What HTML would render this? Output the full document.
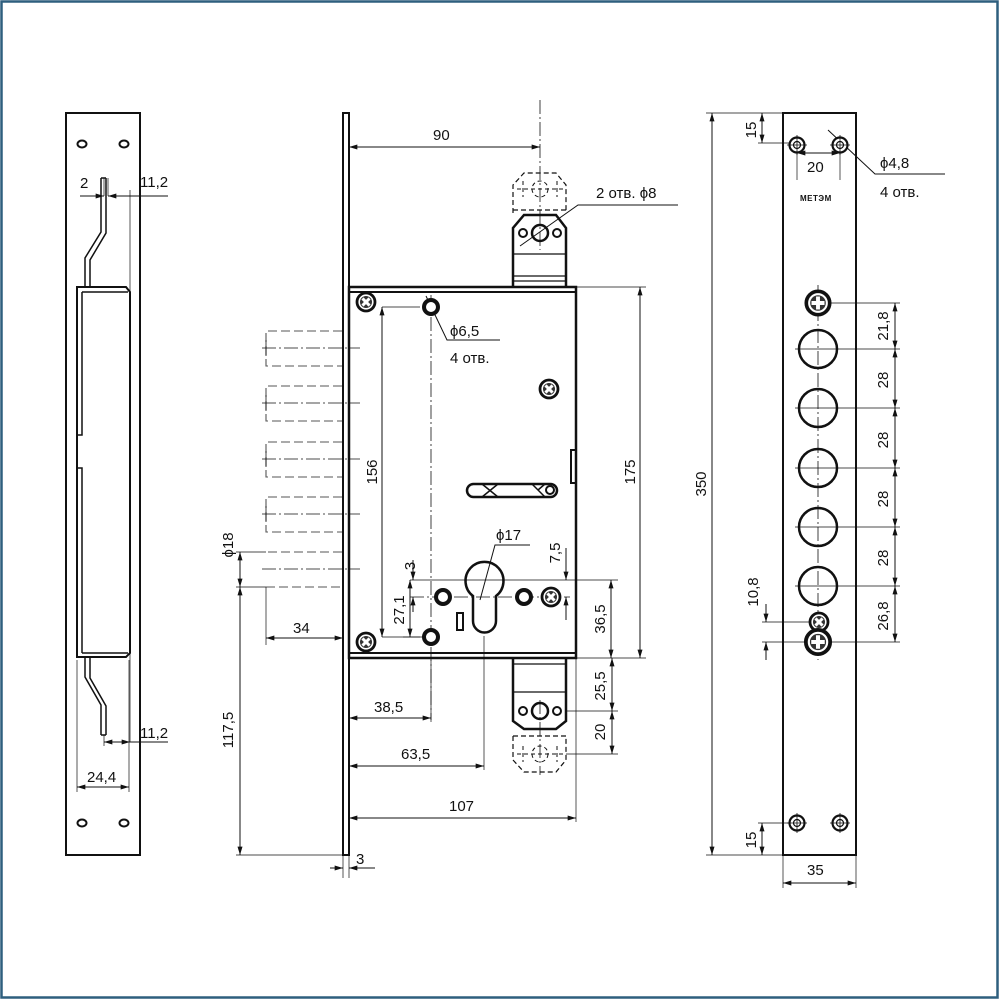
<!DOCTYPE html>
<html><head><meta charset="utf-8"><style>
html,body{margin:0;padding:0;background:#fff}
svg{display:block}
text{font-family:"Liberation Sans",sans-serif;font-size:15px;fill:#111}
</style></head><body>
<svg width="1000" height="1000" viewBox="0 0 1000 1000" xmlns="http://www.w3.org/2000/svg">
<defs>
<marker id="a" viewBox="0 0 10 6" refX="10" refY="3" markerWidth="9" markerHeight="5" orient="auto-start-reverse"><path d="M0,0 L10,3 L0,6z" fill="#111"/></marker>
<g id="scr"><circle r="9" fill="#fff" stroke="#111" stroke-width="2.8"/><circle r="6" fill="#333"/><path d="M-5,-1.5h3.5v-3.5h3v3.5h3.5v3h-3.5v3.5h-3v-3.5h-3.5z" fill="#fff" transform="rotate(45)"/></g>
<g id="scr2"><circle r="9" fill="#fff" stroke="#111" stroke-width="2.8"/><circle r="6" fill="#333"/><path d="M-5,-1.5h3.5v-3.5h3v3.5h3.5v3h-3.5v3.5h-3v-3.5h-3.5z" fill="#fff"/></g>
<g id="ring"><circle r="7" fill="#fff" stroke="#111" stroke-width="4"/></g>
<g id="dh"><circle r="7.5" fill="#fff" stroke="#111" stroke-width="2.2"/><circle r="3.5" fill="none" stroke="#111" stroke-width="1.2"/><path d="M-10,0h20M0,-10v20" stroke="#111" stroke-width="0.8"/></g>
</defs>
<rect x="1.5" y="1.5" width="996" height="996" fill="none" stroke="#2e5f7e" stroke-width="2.5"/>

<g fill="none" stroke="#111" stroke-width="1">
<rect x="66" y="113" width="74" height="742" stroke-width="2"/>
<ellipse cx="82" cy="144" rx="4.5" ry="3.5" stroke-width="2"/><ellipse cx="124" cy="144" rx="4.5" ry="3.5" stroke-width="2"/>
<ellipse cx="82" cy="823" rx="4.5" ry="3.5" stroke-width="2"/><ellipse cx="124" cy="823" rx="4.5" ry="3.5" stroke-width="2"/>
<path d="M77,287 H126 L130,292 V653 L126,657 H77 Z" stroke-width="2"/>
<path d="M82,292 V435 H78 M78,468 H82 V653 M82,292 H128 M82,653 H128" stroke-width="1.5"/>
<path d="M101,178 V232 L85,258 V287 M106,178 V233 L90,260 V287 M101,178 H106" stroke-width="1.5"/>
<path d="M101,735 V705 L85,677 V657 M106,735 V706 L90,678 V657 M101,735 H106" stroke-width="1.5"/>
<path d="M104,178 V196 M108,178 V196 M130,190 V742 M140,180 V200 M104,735 V746 M77,660 V792 M129,660 V792" stroke-width="0.7"/>
<line x1="80" y1="196" x2="104" y2="196" marker-end="url(#a)"/><line x1="132" y1="196" x2="108" y2="196" marker-end="url(#a)"/><line x1="132" y1="196" x2="168" y2="196"/>
<line x1="104" y1="742" x2="130" y2="742" marker-start="url(#a)" marker-end="url(#a)"/><line x1="130" y1="742" x2="168" y2="742"/>
<line x1="77" y1="787" x2="129" y2="787" marker-start="url(#a)" marker-end="url(#a)"/>

<rect x="343" y="113" width="6" height="742" stroke-width="2"/>
<rect x="349" y="287" width="227" height="371" stroke-width="2.5"/>
<path d="M349,292 H576 M349,653 H576" stroke-width="2"/>
<rect x="571" y="450" width="5" height="33" stroke-width="2"/>
<rect x="467" y="484" width="90" height="13" rx="6.5" stroke-width="2.5"/>
<path d="M482,484 L498,497 M482,497 L498,484 M532,484 L545,497 M538,490 L545,484" stroke-width="1.5"/>
<circle cx="550" cy="490" r="4" stroke-width="2"/>
<path d="M473,596 A19,19 0 1 1 496,596 V621 A11.5,11.5 0 0 1 473,621 Z" stroke-width="2.5"/>
<rect x="457" y="613" width="6" height="17" stroke-width="2"/>
<path d="M513,287 V228 L524,215 H556 L566,228 V287" stroke-width="2.5"/>
<path d="M513,254 H566 M513,276 H566 M513,281 H566" stroke-width="1.2"/>
<circle cx="540" cy="233" r="8" stroke-width="2.5"/><circle cx="523" cy="233" r="4" stroke-width="2"/><circle cx="557" cy="233" r="4" stroke-width="2"/>
<path d="M513,213 V185 L524,173 H556 L566,185 V213 M513,210 H566" stroke-dasharray="5,3" stroke-width="1.2"/>
<circle cx="540" cy="189" r="8" stroke-dasharray="4,3"/><path d="M523,181 v16 M557,181 v16 M517,189 h46" stroke-dasharray="4,3"/>
<path d="M513,658 V721 L524,729 H556 L566,721 V658" stroke-width="2.5"/>
<path d="M513,664 H566 M513,692 H566" stroke-width="1.2"/>
<circle cx="540" cy="711" r="8" stroke-width="2.5"/><circle cx="523" cy="711" r="4" stroke-width="2"/><circle cx="557" cy="711" r="4" stroke-width="2"/>
<path d="M513,736 V760 L524,772 H556 L566,760 V736 M513,736 H566" stroke-dasharray="5,3" stroke-width="1.2"/>
<circle cx="540" cy="754" r="8" stroke-dasharray="4,3"/><path d="M523,746 v16 M557,746 v16 M517,754 h46" stroke-dasharray="4,3"/>
<g stroke-dasharray="9,4" stroke-width="1.1" stroke="#555">
<path d="M342,331 H266 V366 H342"/><path d="M342,386 H266 V421 H342"/><path d="M342,442 H266 V477 H342"/><path d="M342,497 H266 V532 H342"/><path d="M342,552 H266 M266,587 H342"/>
</g>
<g stroke-dasharray="14,3,2,3" stroke-width="0.8">
<path d="M262,348 H360 M262,403 H360 M262,459 H360 M262,514 H360 M262,569 H360"/>
<path d="M431,295 V720 M540,100 V250 M540,700 V775 M818,285 V660 M410,597 H570"/>
</g>
<path d="M266,340 v16 M266,395 v16 M266,451 v16 M266,506 v16" stroke-width="0.8"/>

<path d="M349,147 H540" marker-start="url(#a)" marker-end="url(#a)"/>
<path d="M520,246 L578,205 H678"/>
<path d="M382,307 H420 M382,637 H420" stroke-width="0.7"/>
<path d="M382,307 V637" marker-start="url(#a)" marker-end="url(#a)"/>
<path d="M426,296 L447,340 H500"/>
<path d="M576,287 H646 M576,658 H646" stroke-width="0.7"/>
<path d="M640,287 V658" marker-start="url(#a)" marker-end="url(#a)"/>
<path d="M480,600 L495,545 H530"/>
<path d="M410,580 H618" stroke-width="0.7"/>
<path d="M566,548 V580" marker-end="url(#a)"/><path d="M566,620 V597" marker-end="url(#a)"/>
<path d="M413,560 V580" marker-end="url(#a)"/><path d="M413,612 V597" marker-end="url(#a)"/>
<path d="M403,637 H425" stroke-width="0.7"/>
<path d="M410,580 V637" marker-start="url(#a)" marker-end="url(#a)"/>
<path d="M611,580 V658" marker-start="url(#a)" marker-end="url(#a)"/>
<path d="M566,711 H618 M566,754 H618 M576,658 V822" stroke-width="0.7"/>
<path d="M612,658 V711" marker-start="url(#a)" marker-end="url(#a)"/>
<path d="M612,711 V754" marker-start="url(#a)" marker-end="url(#a)"/>
<path d="M431,660 V722 M484,636 V770" stroke-width="0.7"/>
<path d="M349,718 H431" marker-start="url(#a)" marker-end="url(#a)"/>
<path d="M349,766 H484" marker-start="url(#a)" marker-end="url(#a)"/>
<path d="M349,818 H576" marker-start="url(#a)" marker-end="url(#a)"/>
<path d="M343,855 V878 M349,855 V878" stroke-width="0.7"/>
<path d="M330,868 H343" marker-end="url(#a)"/><path d="M375,868 H349" marker-end="url(#a)"/>
<path d="M236,552 H266 M236,587 H266 M266,587 V645 M236,855 H343" stroke-width="0.7"/>
<path d="M240,552 V587" marker-start="url(#a)" marker-end="url(#a)"/>
<path d="M240,587 V855" marker-start="url(#a)" marker-end="url(#a)"/>
<path d="M266,638 H343" marker-start="url(#a)" marker-end="url(#a)"/>

<rect x="783" y="113" width="73" height="742" stroke-width="2"/>
<circle cx="818" cy="349" r="19" stroke-width="2.5"/><circle cx="818" cy="408" r="19" stroke-width="2.5"/><circle cx="818" cy="468" r="19" stroke-width="2.5"/><circle cx="818" cy="527" r="19" stroke-width="2.5"/><circle cx="818" cy="586" r="19" stroke-width="2.5"/>
<path d="M795,349 H900 M795,408 H900 M795,468 H900 M795,527 H900 M795,586 H900 M818,303 H900 M810,642 H900" stroke-width="0.7"/>
<path d="M895,303 V349" marker-start="url(#a)" marker-end="url(#a)"/>
<path d="M895,349 V408" marker-start="url(#a)" marker-end="url(#a)"/>
<path d="M895,408 V468" marker-start="url(#a)" marker-end="url(#a)"/>
<path d="M895,468 V527" marker-start="url(#a)" marker-end="url(#a)"/>
<path d="M895,527 V586" marker-start="url(#a)" marker-end="url(#a)"/>
<path d="M895,586 V642" marker-start="url(#a)" marker-end="url(#a)"/>
<path d="M762,622 H810 M762,642 H805" stroke-width="0.7"/>
<path d="M766,604 V622" marker-end="url(#a)"/><path d="M766,660 V642" marker-end="url(#a)"/>
<path d="M706,113 H783 M706,855 H783 M758,143 H790 M758,823 H790" stroke-width="0.7"/>
<path d="M712,113 V855" marker-start="url(#a)" marker-end="url(#a)"/>
<path d="M762,113 V143" marker-start="url(#a)" marker-end="url(#a)"/>
<path d="M762,823 V855" marker-start="url(#a)" marker-end="url(#a)"/>
<path d="M797,145 V180 M840,145 V180 M783,855 V888 M856,855 V888" stroke-width="0.7"/>
<path d="M797,153 H840" marker-start="url(#a)" marker-end="url(#a)"/>
<path d="M783,883 H856" marker-start="url(#a)" marker-end="url(#a)"/>
<path d="M828,130 L875,174 H945"/>
</g>
<use href="#scr" x="366" y="302"/><use href="#scr" x="549" y="389"/><use href="#scr" x="366" y="642"/><use href="#scr" x="551" y="597"/>
<use href="#ring" x="431" y="307"/><use href="#ring" x="431" y="637"/><use href="#ring" x="443" y="597"/><use href="#ring" x="524" y="597"/>
<use href="#dh" x="797" y="145"/><use href="#dh" x="840" y="145"/><use href="#dh" x="797" y="823"/><use href="#dh" x="840" y="823"/>
<g transform="translate(818,303) scale(1.3)"><use href="#scr2"/></g>
<use href="#scr" x="819" y="622"/>
<g transform="translate(818,642) scale(1.35)"><use href="#scr2"/></g>

<text x="80" y="188">2</text><text x="140" y="187">11,2</text>
<text x="140" y="738">11,2</text><text x="87" y="782">24,4</text>
<text x="433" y="140">90</text>
<text x="596" y="198">2 отв. ϕ8</text>
<text x="450" y="336">ϕ6,5</text><text x="450" y="363">4 отв.</text>
<text x="496" y="540">ϕ17</text>
<text transform="translate(377,472) rotate(-90)" text-anchor="middle">156</text>
<text transform="translate(635,472) rotate(-90)" text-anchor="middle">175</text>
<text transform="translate(415,566) rotate(-90)" text-anchor="middle">3</text>
<text transform="translate(404,610) rotate(-90)" text-anchor="middle">27,1</text>
<text transform="translate(560,553) rotate(-90)" text-anchor="middle">7,5</text>
<text transform="translate(605,619) rotate(-90)" text-anchor="middle">36,5</text>
<text transform="translate(605,686) rotate(-90)" text-anchor="middle">25,5</text>
<text transform="translate(605,732) rotate(-90)" text-anchor="middle">20</text>
<text transform="translate(233,545) rotate(-90)" text-anchor="middle">ϕ18</text>
<text transform="translate(233,730) rotate(-90)" text-anchor="middle">117,5</text>
<text x="293" y="633">34</text>
<text x="374" y="712">38,5</text><text x="401" y="759">63,5</text><text x="449" y="811">107</text>
<text x="356" y="864">3</text>
<text transform="translate(706,484) rotate(-90)" text-anchor="middle">350</text>
<text transform="translate(756,130) rotate(-90)" text-anchor="middle">15</text>
<text transform="translate(756,840) rotate(-90)" text-anchor="middle">15</text>
<text transform="translate(758,592) rotate(-90)" text-anchor="middle">10,8</text>
<text x="807" y="172">20</text>
<text x="800" y="201" style="font-size:8px;font-weight:bold;letter-spacing:0.5px">МЕТЭМ</text>
<text x="880" y="168">ϕ4,8</text><text x="880" y="197">4 отв.</text>
<text x="807" y="875">35</text>
<text transform="translate(888,326) rotate(-90)" text-anchor="middle">21,8</text>
<text transform="translate(888,380) rotate(-90)" text-anchor="middle">28</text>
<text transform="translate(888,440) rotate(-90)" text-anchor="middle">28</text>
<text transform="translate(888,499) rotate(-90)" text-anchor="middle">28</text>
<text transform="translate(888,558) rotate(-90)" text-anchor="middle">28</text>
<text transform="translate(888,616) rotate(-90)" text-anchor="middle">26,8</text>
</svg>
</body></html>
